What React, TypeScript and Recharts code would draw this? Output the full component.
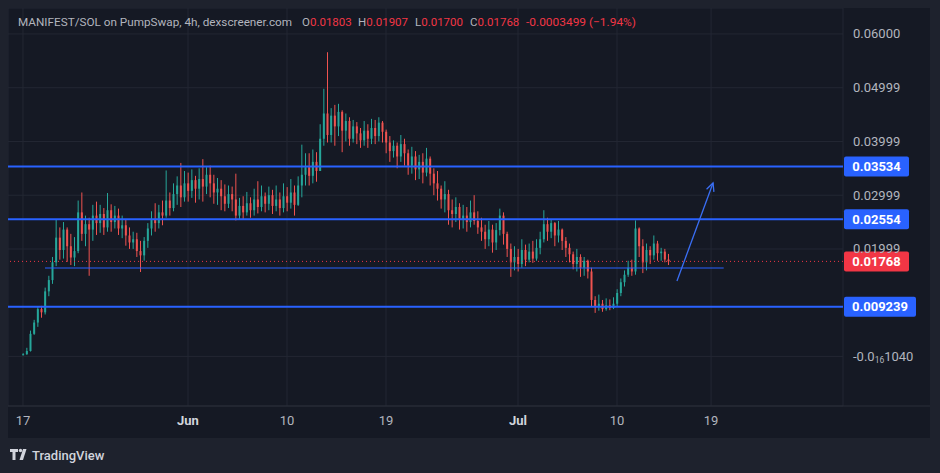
import React from "react";
import {
  ComposedChart,
  Bar,
  XAxis,
  YAxis,
  CartesianGrid,
  ReferenceLine,
} from "recharts";

// 8h candles, MANIFEST/SOL, starting May 17 (t = days since May 17)
const firstOpen = 0.0003;

const closes = [
  0.0004, 0.001, 0.0042, 0.0063, 0.0088, 0.0082, 0.0121, 0.0142, 0.0175,
  0.0221, 0.0198, 0.0236, 0.0205, 0.0184, 0.0196, 0.0268, 0.0228, 0.0246,
  0.0236, 0.0262, 0.0248, 0.0265, 0.024, 0.0272, 0.025, 0.0262, 0.0238,
  0.0244, 0.0225, 0.0212, 0.0218, 0.0196, 0.0188, 0.0215, 0.0238, 0.0256,
  0.0248, 0.0268, 0.0262, 0.029, 0.0276, 0.0302, 0.0318, 0.0296, 0.0322,
  0.0308, 0.0328, 0.0312, 0.033, 0.0316, 0.0338, 0.0322, 0.0305, 0.0312,
  0.0298, 0.0284, 0.0302, 0.0292, 0.0262, 0.028, 0.0268, 0.0285, 0.0272,
  0.0292, 0.0278, 0.0298, 0.0284, 0.03, 0.028, 0.0292, 0.0276, 0.0298,
  0.0286, 0.0305, 0.0282, 0.0318, 0.0338, 0.0352, 0.0336, 0.0362, 0.0345,
  0.0405, 0.0452, 0.0412, 0.0448, 0.0428, 0.0455, 0.042, 0.0438, 0.0405,
  0.0428, 0.0415, 0.0402, 0.042, 0.0405, 0.0425, 0.041, 0.0435, 0.0418,
  0.0398, 0.0382, 0.0392, 0.0372, 0.0395, 0.0378, 0.0355, 0.0372, 0.0348,
  0.0362, 0.0342, 0.0368, 0.034, 0.0322, 0.0312, 0.0292, 0.0302, 0.0272,
  0.0265, 0.0278, 0.0255, 0.0262, 0.025, 0.0268, 0.0252, 0.024, 0.0232,
  0.0218, 0.0236, 0.0212, 0.0235, 0.0262, 0.0228, 0.02, 0.0175, 0.0185,
  0.0172, 0.0198, 0.018, 0.0195, 0.0182, 0.0202, 0.0218, 0.0246, 0.0232,
  0.0248, 0.0225, 0.0236, 0.0215, 0.0202, 0.019, 0.0172, 0.0185, 0.0165,
  0.0178, 0.0158, 0.0105, 0.0092, 0.0098, 0.0088, 0.0095, 0.009, 0.0098,
  0.0118, 0.0138, 0.0152, 0.0165, 0.0158, 0.0238, 0.0205, 0.0175, 0.0198,
  0.0188, 0.021, 0.0192, 0.0195, 0.01803, 0.01768,
];

const highs = [
  0.0006, 0.0016, 0.0048, 0.0068, 0.0092, 0.0094, 0.0128, 0.015, 0.0185,
  0.0255, 0.024, 0.025, 0.024, 0.0228, 0.0222, 0.029, 0.0305, 0.0262,
  0.0258, 0.0282, 0.0288, 0.0282, 0.0276, 0.0304, 0.0283, 0.028, 0.0275,
  0.0262, 0.0255, 0.024, 0.0232, 0.023, 0.0215, 0.0222, 0.0248, 0.027,
  0.0285, 0.0282, 0.029, 0.0346, 0.0305, 0.0322, 0.0335, 0.036, 0.0345,
  0.0342, 0.0348, 0.0336, 0.035, 0.0367, 0.0352, 0.0355, 0.0338, 0.0332,
  0.0328, 0.032, 0.0318, 0.0316, 0.034, 0.0295, 0.0298, 0.0306, 0.0296,
  0.0312, 0.0326, 0.0318, 0.0305, 0.0316, 0.031, 0.0318, 0.0305, 0.0322,
  0.0315, 0.033, 0.0318, 0.0335, 0.0394, 0.0378, 0.0378, 0.0385, 0.038,
  0.0432, 0.0498, 0.0566, 0.0462, 0.0468, 0.047, 0.0458, 0.0452, 0.0445,
  0.044, 0.0436, 0.0425, 0.0438, 0.0432, 0.0442, 0.044, 0.0445, 0.0438,
  0.0422, 0.041, 0.0402, 0.0398, 0.0412, 0.0405, 0.0385, 0.039, 0.0382,
  0.0375, 0.0378, 0.0388, 0.0372, 0.035, 0.0345, 0.0318, 0.0326, 0.031,
  0.0292, 0.0296, 0.0285, 0.0282, 0.0278, 0.029, 0.03, 0.027, 0.0258,
  0.0245, 0.0252, 0.0245, 0.0248, 0.0275, 0.0268, 0.0232, 0.021, 0.0205,
  0.02, 0.0218, 0.0208, 0.021, 0.0215, 0.0218, 0.0232, 0.0272, 0.0258,
  0.0255, 0.025, 0.0252, 0.0238, 0.0222, 0.021, 0.0195, 0.02, 0.019,
  0.0185, 0.018, 0.0165, 0.0112, 0.0115, 0.0105, 0.0108, 0.0106, 0.011,
  0.0125, 0.0145, 0.016, 0.0178, 0.018, 0.0253, 0.024, 0.0218, 0.021,
  0.0205, 0.0225, 0.0215, 0.0202, 0.02, 0.01907,
];

const lows = [
  0.0002, 0.0003, 0.0009, 0.004, 0.0055, 0.0072, 0.0078, 0.0112, 0.0135,
  0.0168, 0.018, 0.0182, 0.0176, 0.017, 0.0168, 0.0192, 0.0215, 0.0205,
  0.015, 0.0215, 0.0226, 0.023, 0.0226, 0.0232, 0.0232, 0.0238, 0.0226,
  0.022, 0.0206, 0.02, 0.02, 0.0185, 0.0157, 0.0178, 0.0202, 0.0225,
  0.0232, 0.0238, 0.0244, 0.0258, 0.0262, 0.027, 0.0282, 0.0278, 0.0288,
  0.0288, 0.0295, 0.0286, 0.0292, 0.0288, 0.0302, 0.0296, 0.0284, 0.0282,
  0.0272, 0.027, 0.0276, 0.027, 0.0253, 0.0255, 0.0255, 0.0262, 0.0258,
  0.0262, 0.0266, 0.027, 0.0268, 0.0272, 0.0265, 0.027, 0.0262, 0.0268,
  0.027, 0.0275, 0.0262, 0.028, 0.0296, 0.0318, 0.0318, 0.0322, 0.0325,
  0.0355, 0.0392, 0.0398, 0.0398, 0.0392, 0.041, 0.038, 0.04, 0.0392,
  0.0398, 0.0395, 0.0388, 0.0392, 0.0388, 0.0395, 0.0395, 0.04, 0.0398,
  0.0378, 0.0362, 0.037, 0.035, 0.0362, 0.0355, 0.0338, 0.034, 0.0328,
  0.033, 0.0322, 0.0335, 0.0318, 0.03, 0.029, 0.0275, 0.0268, 0.0245,
  0.024, 0.025, 0.0236, 0.0238, 0.0232, 0.024, 0.0245, 0.0228, 0.0215,
  0.02, 0.0205, 0.0193, 0.0198, 0.0225, 0.0208, 0.0185, 0.0148, 0.016,
  0.0158, 0.0165, 0.0168, 0.0175, 0.0174, 0.0178, 0.019, 0.0212, 0.0215,
  0.022, 0.0205, 0.0212, 0.0198, 0.0185, 0.0175, 0.0162, 0.0158, 0.0148,
  0.015, 0.0145, 0.0092, 0.0081, 0.0085, 0.0083, 0.0085, 0.0086, 0.0088,
  0.0092, 0.0112, 0.013, 0.0148, 0.015, 0.0152, 0.0185, 0.0155, 0.016,
  0.0172, 0.018, 0.0178, 0.0178, 0.0175, 0.017,
];

const xTicks = [0, 15, 24, 33, 45, 54, 62.55];
const xTickLabels = ["17", "Jun", "10", "19", "Jul", "10", "19"];
const yTicks = [0, 0.01999, 0.02999, 0.03999, 0.04999, 0.06];
const yTickLabels = ["-0.0161040", "0.01999", "0.02999", "0.03999", "0.04999", "0.06000"];

const levels = [0.03534, 0.02554, 0.009239];
const levelLabels = ["0.03534", "0.02554", "0.009239"];
const lastPrice = 0.01768;
const supportLine = { from: 2, to: 63.7, value: 0.01645 };
const arrow = { x1: 59.45, y1: 0.01403, x2: 62.73, y2: 0.03227 };

const GREEN = "#26a69a";
const RED = "#ef5350";
const BLUE = "#2962ff";
const TEXT = "#b2b5be";
const FONT = "Roboto, 'Noto Sans', sans-serif";

const data = closes.map((close, i) => {
  const open = i === 0 ? firstOpen : closes[i - 1];
  return {
    t: i / 3,
    open,
    close,
    high: Math.max(highs[i], open, close),
    low: Math.min(lows[i], open, close),
  };
});

function Candle(props: any) {
  const { x, y, width, height, payload } = props;
  const { open, close, high, low } = payload;
  const top = Math.min(y, y + height);
  const h = Math.abs(height);
  const span = high - low || 1e-9;
  const py = (v: number) => top + (h * (high - v)) / span;
  const color = close >= open ? GREEN : RED;
  const cx = x + width / 2;
  const bTop = py(Math.max(open, close));
  const bBot = py(Math.min(open, close));
  return (
    <g>
      <line x1={cx} x2={cx} y1={top} y2={top + h} stroke={color} strokeWidth={1} />
      <rect x={x} y={bTop} width={width} height={Math.max(1, bBot - bTop)} fill={color} />
    </g>
  );
}

function YTick(props: any) {
  const { x, y, payload } = props;
  const idx = yTicks.indexOf(payload.value);
  const tx = x + 10;
  if (idx === 0) {
    return (
      <text x={tx} y={y + 4.5} fill={TEXT} fontSize={13} fontFamily={FONT}>
        <tspan>-0.0</tspan>
        <tspan fontSize={8.5} dy={2}>16</tspan>
        <tspan dy={-2}>1040</tspan>
      </text>
    );
  }
  return (
    <text x={tx} y={y + 4.5} fill={TEXT} fontSize={13} fontFamily={FONT}>
      {yTickLabels[idx]}
    </text>
  );
}

function XTick(props: any) {
  const { x, y, payload } = props;
  const idx = xTicks.indexOf(payload.value);
  const label = xTickLabels[idx];
  const month = label === "Jun" || label === "Jul";
  return (
    <text
      x={x}
      y={y + 19}
      textAnchor="middle"
      fill={month ? "#d1d4dc" : TEXT}
      fontWeight={month ? 700 : 400}
      fontSize={13}
      fontFamily={FONT}
    >
      {label}
    </text>
  );
}

const priceBox = (text: string, fill: string, w: number) => (p: any) => {
  const vb = p.viewBox;
  const bx = vb.x + vb.width + 1;
  return (
    <g>
      <rect x={bx} y={vb.y - 10} width={w} height={20} rx={2} fill={fill} />
      <text
        x={bx + w / 2}
        y={vb.y + 4.5}
        textAnchor="middle"
        fill="#ffffff"
        fontWeight={700}
        fontSize={13}
        fontFamily={FONT}
      >
        {text}
      </text>
    </g>
  );
};

function Arrow(props: any) {
  const { x1, y1, x2, y2 } = props;
  const ang = Math.atan2(y2 - y1, x2 - x1);
  const len = 9;
  const a1 = ang + Math.PI - 0.45;
  const a2 = ang + Math.PI + 0.45;
  return (
    <g stroke="#3a6ff5" strokeWidth={1.3} fill="none">
      <line x1={x1} y1={y1} x2={x2} y2={y2} />
      <polyline
        points={`${x2 + len * Math.cos(a1)},${y2 + len * Math.sin(a1)} ${x2},${y2} ${
          x2 + len * Math.cos(a2)
        },${y2 + len * Math.sin(a2)}`}
      />
    </g>
  );
}

export default function App() {
  return (
    <div
      style={{
        position: "relative",
        width: 940,
        height: 473,
        background: "#1e222d",
        overflow: "hidden",
        fontFamily: FONT,
      }}
    >
      <style>{`body{margin:0}`}</style>
      <div
        style={{
          position: "absolute",
          left: 8,
          top: 8,
          width: 922,
          height: 430,
          background: "#151924",
        }}
      >
        <ComposedChart
          width={922}
          height={430}
          data={data}
          margin={{ top: 0, right: 0, bottom: 0, left: 0 }}
        >
          <CartesianGrid stroke="#232733" />
          <XAxis
            dataKey="t"
            type="number"
            domain={[-1.3636, 74.545]}
            allowDataOverflow
            ticks={xTicks}
            tick={<XTick />}
            tickLine={false}
            tickSize={0}
            tickMargin={0}
            axisLine={false}
            height={32}
            interval={0}
          />
          <YAxis
            orientation="right"
            type="number"
            domain={[-0.00923, 0.06483]}
            allowDataOverflow
            ticks={yTicks}
            tick={<YTick />}
            tickLine={false}
            tickSize={0}
            tickMargin={0}
            axisLine={false}
            width={87}
            interval={0}
          />
          <Bar
            dataKey={(d: any) => [d.low, d.high]}
            barSize={2}
            shape={Candle}
            isAnimationActive={false}
          />
          <ReferenceLine
            segment={[
              { x: supportLine.from, y: supportLine.value },
              { x: supportLine.to, y: supportLine.value },
            ]}
            stroke={BLUE}
            strokeWidth={1.2}
          />
          <ReferenceLine
            y={lastPrice}
            stroke="#f23645"
            strokeWidth={1}
            strokeDasharray="1 3"
            label={priceBox("0.01768", "#f23645", 65)}
          />
          {levels.map((v, i) => (
            <ReferenceLine
              key={v}
              y={v}
              stroke={BLUE}
              strokeWidth={2}
              label={priceBox(levelLabels[i], BLUE, i === 2 ? 72 : 65)}
            />
          ))}
          <ReferenceLine
            segment={[
              { x: arrow.x1, y: arrow.y1 },
              { x: arrow.x2, y: arrow.y2 },
            ]}
            shape={Arrow}
          />
        </ComposedChart>
      </div>
      <svg
        width={940}
        height={473}
        style={{ position: "absolute", left: 0, top: 0, pointerEvents: "none" }}
      >
        <line x1={8} x2={930} y1={406} y2={406} stroke="#2a2e39" strokeWidth={1} />
        <g fontSize={11.5} fontFamily={FONT} fill={TEXT}>
          <text x={18} y={26} textLength={274} lengthAdjust="spacingAndGlyphs">
            MANIFEST/SOL on PumpSwap, 4h, dexscreener.com
          </text>
          <text x={302} y={26}>
            O<tspan fill="#f23645">0.01803</tspan>
          </text>
          <text x={358} y={26}>
            H<tspan fill="#f23645">0.01907</tspan>
          </text>
          <text x={415} y={26}>
            L<tspan fill="#f23645">0.01700</tspan>
          </text>
          <text x={470} y={26}>
            C<tspan fill="#f23645">0.01768</tspan>
          </text>
          <text x={526} y={26} fill="#f23645" textLength={110} lengthAdjust="spacingAndGlyphs">
            -0.0003499 (−1.94%)
          </text>
        </g>
        <g fill="#d1d4dc">
          <path d="M10 449 h8 v3 h-2.5 v8 h-3 v-8 h-2.5 z" />
          <circle cx={20.5} cy={450.5} r={1.7} />
          <path d="M23 449 h3.5 l-3.5 11 h-3.5 z" />
        </g>
        <text x={32} y={460} fontSize={13} fontFamily={FONT} fill="#d1d4dc" fontWeight={500}>
          TradingView
        </text>
      </svg>
    </div>
  );
}
